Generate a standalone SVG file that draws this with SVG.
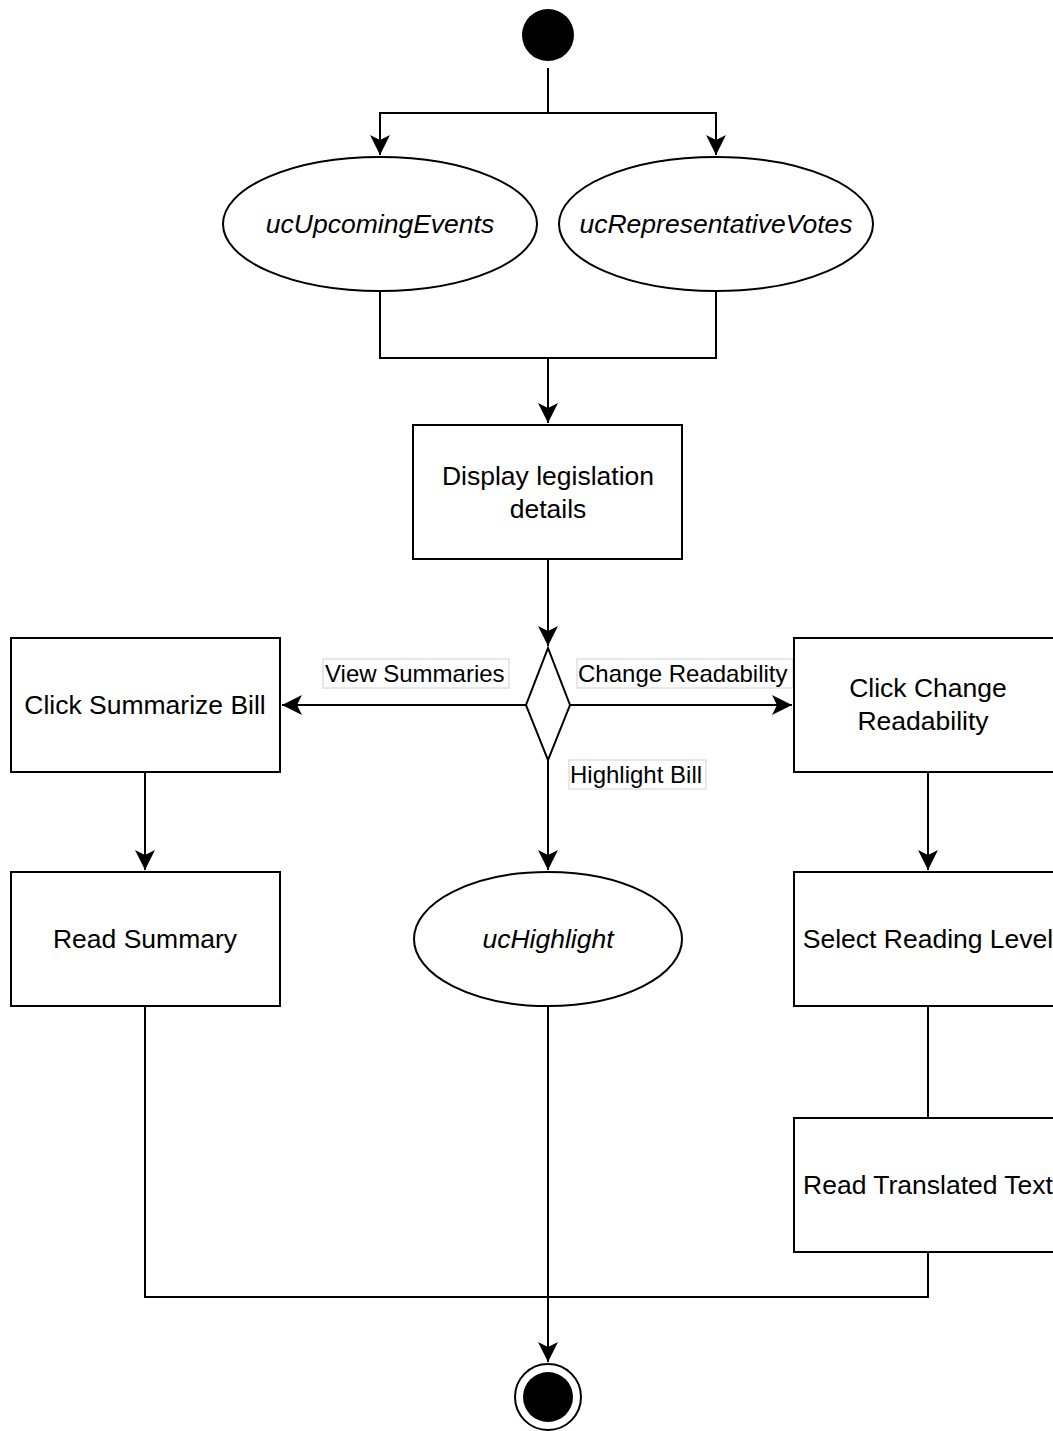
<svg xmlns="http://www.w3.org/2000/svg" width="1053" height="1431" viewBox="0 0 1053 1431">
<defs>
<marker id="arr" viewBox="0 0 20 20" refX="20" refY="10" markerWidth="20" markerHeight="20" markerUnits="userSpaceOnUse" orient="auto">
<path d="M0,0 L20,10 L0,20 L5,10 Z" fill="#000"/>
</marker>
</defs>
<style>
.n{fill:#fff;stroke:#000;stroke-width:2}
.t{font-family:"Liberation Sans",Arial,sans-serif;font-size:26.5px;text-anchor:middle;fill:#000}
.i{font-style:italic}
.e{fill:none;stroke:#000;stroke-width:2}
.lb{fill:#fff;stroke:#d0d0d0;stroke-width:1}
.l{font-family:"Liberation Sans",Arial,sans-serif;font-size:24px;fill:#000}
</style>
<rect width="1053" height="1431" fill="#fff"/>
<g id="connectors">
<path class="e" d="M548,68 V113 H380 V155" marker-end="url(#arr)"/>
<path class="e" d="M548,113 H716 V155" marker-end="url(#arr)"/>
<path class="e" d="M380,291 V358 H716 V291"/>
<path class="e" d="M548,358 V423" marker-end="url(#arr)"/>
<path class="e" d="M548,559 V646" marker-end="url(#arr)"/>
<path class="e" d="M526,705 H282" marker-end="url(#arr)"/>
<path class="e" d="M570,705 H792" marker-end="url(#arr)"/>
<path class="e" d="M548,760 V870" marker-end="url(#arr)"/>
<path class="e" d="M145,772 V870" marker-end="url(#arr)"/>
<path class="e" d="M928,772 V870" marker-end="url(#arr)"/>
<path class="e" d="M928,1006 V1118"/>
<path class="e" d="M145,1006 V1297 H928 V1252"/>
<path class="e" d="M548,1006 V1362" marker-end="url(#arr)"/>
<rect class="lb" x="323" y="659" width="186" height="29"/>
<text class="l" x="325" y="682">View Summaries</text>
<rect class="lb" x="577" y="659" width="216" height="29"/>
<text class="l" x="578" y="682">Change Readability</text>
<rect class="lb" x="569" y="760" width="137" height="29"/>
<text class="l" x="570" y="783">Highlight Bill</text>
</g>
<g id="start"><circle cx="548" cy="35" r="26" fill="#000"/></g>
<g id="ucUpcomingEvents"><ellipse class="n" cx="380" cy="224" rx="157" ry="67"/><text class="t i" x="380" y="233">ucUpcomingEvents</text></g>
<g id="ucRepresentativeVotes"><ellipse class="n" cx="716" cy="224" rx="157" ry="67"/><text class="t i" x="716" y="233">ucRepresentativeVotes</text></g>
<g id="display"><rect class="n" x="413" y="425" width="269" height="134"/><text class="t" x="548" y="485">Display legislation</text><text class="t" x="548" y="518">details</text></g>
<g id="decision"><path class="n" d="M548,648 L570,705 L548,760 L526,705 Z"/></g>
<g id="clickSummarize"><rect class="n" x="11" y="638" width="269" height="134"/><text class="t" x="145" y="714">Click Summarize Bill</text></g>
<g id="clickChange"><rect class="n" x="794" y="638" width="269" height="134"/><text class="t" x="928" y="697">Click Change</text><text class="t" x="923" y="730">Readability</text></g>
<g id="readSummary"><rect class="n" x="11" y="872" width="269" height="134"/><text class="t" x="145" y="948">Read Summary</text></g>
<g id="ucHighlight"><ellipse class="n" cx="548" cy="939" rx="134" ry="67"/><text class="t i" x="548" y="948">ucHighlight</text></g>
<g id="selectLevel"><rect class="n" x="794" y="872" width="269" height="134"/><text class="t" x="928" y="948">Select Reading Level</text></g>
<g id="readTranslated"><rect class="n" x="794" y="1118" width="269" height="134"/><text class="t" x="928" y="1194">Read Translated Text</text></g>
<g id="end"><circle cx="548" cy="1397" r="33" fill="#fff" stroke="#000" stroke-width="2"/><circle cx="548" cy="1397" r="25" fill="#000"/></g>
</svg>
